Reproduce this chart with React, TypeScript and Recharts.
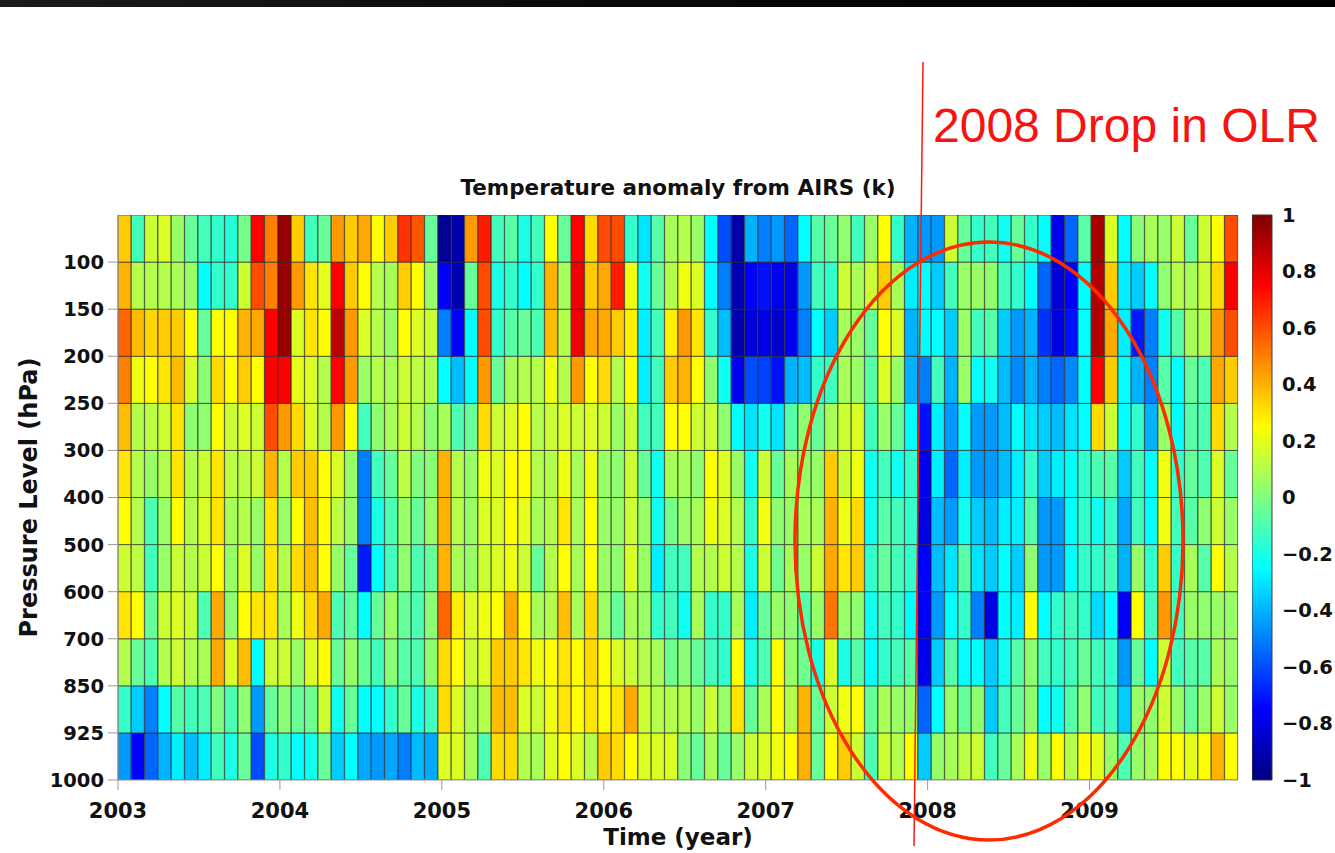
import { Bar, BarChart, Cell, XAxis, YAxis } from 'recharts';

// AIRS temperature anomaly (K), one array per pressure layer, Jan 2003 .. Dec 2009
const p050 = [
  0.35, -0.12, 0.15, 0.18, 0.05, -0.05, -0.12, -0.15, -0.18, -0.02, 0.75, 0.5,
  0.95, 0.35, -0.12, -0.05, 0.45, 0.35, 0.42, 0.25, 0.35, 0.65, 0.58, -0.05,
  -0.95, -0.92, 0.45, 0.7, -0.12, -0.08, -0.2, -0.12, 0.25, -0.05, 0.75, 0.32,
  0.6, 0.6, -0.15, -0.3, -0.08, 0.08, 0.1, 0.05, -0.25, -0.6, -0.92, -0.4,
  -0.5, -0.45, -0.55, -0.25, -0.08, -0.05, 0.03, -0.12, 0.05, 0.25, -0.15, -0.4,
  -0.45, -0.45, 0.15, -0.05, -0.15, -0.12, -0.22, -0.05, -0.15, -0.25, -0.78, -0.55,
  -0.08, 0.92, 0.18, -0.25, 0.02, 0.08, 0.05, 0.15, -0.05, 0.15, 0.25, 0.6,
];
const p100 = [
  0.4, 0.1, 0.1, 0.1, 0.08, 0.05, -0.25, -0.15, -0.15, 0.15, 0.6, 0.5,
  0.95, 0.45, 0.3, 0.2, 0.75, 0.35, 0.25, 0.1, 0.08, 0.35, 0.25, 0.05,
  -0.75, -0.9, -0.05, 0.6, -0.2, -0.15, -0.25, -0.15, 0.4, 0.08, 0.78, 0.35,
  0.42, 0.7, 0.22, -0.22, -0.05, 0.1, 0.22, 0.18, -0.25, -0.5, -0.9, -0.75,
  -0.72, -0.78, -0.8, -0.45, -0.12, -0.15, 0.15, 0.08, 0.15, 0.35, 0.08, -0.28,
  -0.25, -0.35, -0.12, 0.05, 0.05, 0.03, -0.12, -0.15, -0.25, -0.55, -0.82, -0.75,
  -0.25, 0.9, 0.35, -0.28, -0.35, -0.25, 0.03, 0.1, 0.08, 0.15, 0.32, 0.75,
];
const p150 = [
  0.55, 0.38, 0.33, 0.35, 0.35, 0.25, -0.05, 0.25, 0.25, 0.4, 0.42, 0.75,
  0.95, 0.18, 0.3, 0.25, 0.88, 0.45, 0.18, 0.1, 0.05, 0.25, 0.18, 0.15,
  -0.5, -0.75, -0.25, 0.6, -0.15, -0.08, -0.05, -0.1, 0.38, 0.1, 0.78, 0.42,
  0.42, 0.35, 0.28, -0.28, -0.12, 0.28, 0.45, 0.3, -0.15, -0.38, -0.9, -0.82,
  -0.8, -0.85, -0.78, -0.5, -0.25, -0.35, 0.08, 0.05, -0.05, 0.25, 0.18, -0.4,
  -0.25, -0.25, -0.35, 0.05, -0.12, -0.08, -0.35, -0.45, -0.4, -0.65, -0.8, -0.72,
  -0.25, 0.9, 0.42, -0.28, -0.7, -0.5, -0.22, -0.08, 0.08, 0.1, 0.45, 0.6,
];
const p200 = [
  0.5, 0.22, 0.25, 0.3, 0.38, 0.18, 0.02, 0.32, 0.25, 0.35, 0.25, 0.75,
  0.75, 0.2, 0.18, 0.1, 0.75, 0.45, 0.05, 0.1, 0.08, 0.15, 0.12, 0.1,
  -0.25, -0.38, -0.25, 0.45, -0.05, 0.08, 0.1, 0.1, 0.22, 0.1, 0.45, 0.25,
  0.32, 0.1, 0.25, -0.28, -0.12, 0.35, 0.4, 0.25, 0.03, -0.22, -0.78, -0.6,
  -0.62, -0.72, -0.4, -0.38, -0.15, -0.12, 0.08, 0.05, -0.08, 0.18, 0.05, -0.4,
  -0.5, -0.12, -0.4, 0.05, -0.25, -0.22, -0.38, -0.48, -0.4, -0.5, -0.55, -0.48,
  -0.25, 0.75, 0.35, -0.25, -0.4, -0.5, -0.08, -0.25, -0.05, -0.1, 0.42, 0.35,
];
const p250 = [
  0.38, 0.1, 0.12, 0.15, 0.3, 0.03, 0.03, 0.25, 0.15, 0.18, 0.15, 0.6,
  0.45, 0.32, 0.18, 0.1, 0.45, 0.25, -0.12, 0.03, 0.08, 0.15, 0.1, 0.02,
  0.08, -0.1, -0.05, 0.32, 0.15, 0.18, 0.25, 0.1, 0.15, 0.18, 0.15, 0.18,
  0.15, 0.05, 0.15, -0.12, -0.12, 0.25, 0.25, 0.15, 0.15, 0.03, -0.25, -0.3,
  -0.22, -0.3, -0.08, 0.03, -0.05, 0.08, 0.15, 0.18, -0.12, 0.05, -0.05, -0.25,
  -0.72, -0.28, -0.45, -0.25, -0.45, -0.45, -0.38, -0.25, -0.3, -0.35, -0.38, -0.3,
  -0.25, 0.32, 0.15, -0.25, -0.15, -0.4, 0.05, -0.25, -0.08, -0.1, 0.32, 0.1,
];
const p300 = [
  0.3, 0.1, 0.05, 0.1, 0.3, 0.1, 0.15, 0.3, 0.12, 0.12, 0.15, 0.4,
  0.1, 0.35, 0.35, 0.25, 0.18, 0.05, -0.5, -0.12, -0.05, 0.12, 0.0, 0.02,
  0.4, 0.1, 0.05, 0.22, 0.18, 0.25, 0.25, 0.1, 0.1, 0.22, 0.08, 0.22,
  0.05, 0.03, 0.15, -0.05, -0.22, 0.08, 0.08, 0.03, 0.25, 0.18, 0.05, -0.22,
  0.15, -0.05, 0.08, 0.05, 0.05, 0.35, 0.15, 0.22, -0.22, -0.12, -0.22, -0.15,
  -0.78, -0.28, -0.55, -0.28, -0.45, -0.45, -0.38, -0.28, -0.15, -0.35, -0.28, -0.25,
  -0.15, -0.1, -0.08, -0.35, -0.12, -0.25, 0.22, -0.15, -0.05, -0.1, 0.18, -0.05,
];
const p400 = [
  0.25, 0.1, -0.1, 0.05, 0.25, 0.1, 0.18, 0.3, 0.08, 0.1, 0.05, 0.3,
  0.05, 0.25, 0.38, 0.25, 0.12, 0.05, -0.5, -0.2, -0.1, 0.05, -0.05, 0.05,
  0.4, 0.1, 0.05, 0.18, 0.18, 0.25, 0.2, 0.08, 0.1, 0.3, 0.08, 0.25,
  0.05, 0.05, 0.15, 0.05, -0.22, -0.02, 0.05, 0.08, 0.22, 0.18, 0.1, -0.15,
  0.22, 0.03, 0.05, 0.08, 0.08, 0.4, 0.22, 0.32, -0.22, -0.08, -0.12, -0.15,
  -0.8, -0.38, -0.45, -0.22, -0.35, -0.38, -0.28, -0.28, -0.08, -0.45, -0.45, -0.25,
  -0.15, -0.22, -0.15, -0.42, -0.12, -0.25, 0.22, -0.12, -0.08, 0.03, 0.15, 0.05,
];
const p500 = [
  0.15, 0.12, -0.12, 0.05, 0.15, 0.1, 0.15, 0.25, 0.05, 0.18, 0.05, 0.3,
  0.1, 0.32, 0.38, 0.25, 0.05, -0.05, -0.7, -0.25, -0.12, 0.03, -0.1, -0.05,
  0.4, 0.08, 0.05, 0.15, 0.18, 0.22, 0.15, -0.05, 0.1, 0.25, 0.08, 0.25,
  0.05, 0.03, 0.18, 0.05, -0.28, -0.12, -0.12, 0.1, 0.1, 0.15, 0.1, -0.2,
  0.15, -0.03, 0.08, 0.05, 0.15, 0.42, 0.3, 0.35, -0.15, -0.05, -0.12, -0.15,
  -0.75, -0.38, -0.3, -0.08, -0.3, -0.35, -0.25, -0.35, 0.03, -0.45, -0.45, -0.25,
  -0.15, -0.15, -0.12, -0.4, 0.05, -0.15, 0.35, -0.15, 0.08, -0.08, 0.25, 0.1,
];
const p600 = [
  0.3, 0.25, -0.05, 0.15, 0.18, 0.15, -0.1, 0.42, 0.03, 0.25, 0.3, 0.3,
  0.08, 0.22, 0.32, 0.42, -0.1, -0.05, -0.25, -0.05, 0.05, -0.05, -0.1, 0.02,
  0.55, 0.28, 0.18, 0.22, 0.25, 0.42, 0.25, 0.08, 0.1, 0.38, 0.08, 0.32,
  0.05, -0.05, 0.08, 0.05, -0.15, -0.12, -0.22, 0.08, -0.15, -0.15, 0.08, -0.28,
  -0.05, 0.05, 0.03, -0.08, 0.05, 0.52, 0.05, 0.03, -0.22, -0.12, -0.15, -0.25,
  -0.75, -0.45, -0.25, -0.15, -0.5, -0.8, -0.25, -0.28, 0.25, -0.25, -0.15, -0.12,
  -0.15, -0.32, -0.25, -0.75, 0.25, -0.12, 0.45, -0.12, 0.05, 0.03, 0.05, 0.05,
];
const p700 = [
  0.1, -0.05, -0.1, 0.1, 0.15, 0.1, 0.08, 0.42, 0.18, 0.38, -0.25, 0.15,
  0.15, 0.05, 0.18, 0.25, -0.05, 0.05, -0.05, -0.12, 0.02, -0.08, -0.1, 0.03,
  0.32, 0.25, 0.15, 0.18, 0.35, 0.35, 0.3, 0.22, 0.25, 0.3, 0.25, 0.32,
  0.25, 0.18, 0.15, 0.1, 0.08, -0.03, 0.02, -0.05, -0.12, -0.15, 0.25, -0.2,
  -0.1, 0.25, 0.05, -0.03, -0.2, 0.18, -0.2, -0.08, -0.25, -0.15, -0.12, -0.08,
  -0.78, -0.35, -0.08, -0.25, -0.25, -0.35, -0.22, -0.08, 0.03, -0.12, -0.15, -0.12,
  -0.05, -0.12, -0.15, -0.45, -0.05, -0.25, 0.15, -0.12, -0.08, -0.08, 0.08, 0.05,
];
const p850 = [
  -0.15, -0.35, -0.5, -0.25, -0.08, -0.12, -0.1, 0.0, -0.1, 0.03, -0.45, -0.05,
  0.02, -0.05, -0.03, 0.15, -0.22, -0.05, -0.25, -0.25, -0.15, -0.05, -0.2, -0.12,
  0.32, 0.18, 0.08, 0.1, 0.38, 0.38, 0.18, 0.15, 0.22, 0.3, 0.25, 0.3,
  0.25, 0.3, 0.42, 0.15, 0.1, 0.1, 0.1, 0.05, 0.15, 0.05, 0.3, -0.05,
  0.08, 0.25, 0.1, 0.4, -0.05, 0.15, 0.22, 0.25, -0.05, 0.08, 0.05, 0.05,
  -0.55, -0.25, 0.05, -0.05, 0.03, -0.35, -0.12, -0.05, 0.03, -0.25, -0.22, -0.08,
  0.03, -0.12, -0.12, -0.35, 0.05, 0.03, 0.15, 0.05, -0.05, 0.05, 0.15, 0.05,
];
const p925 = [
  -0.45, -0.75, -0.55, -0.4, -0.28, -0.38, -0.28, -0.12, -0.2, -0.05, -0.6, -0.2,
  -0.15, -0.25, -0.22, -0.05, -0.35, -0.25, -0.42, -0.45, -0.42, -0.5, -0.38, -0.42,
  0.18, 0.18, 0.08, -0.1, 0.32, 0.32, 0.1, 0.08, 0.18, 0.25, 0.18, 0.1,
  0.35, 0.32, 0.25, 0.18, 0.18, 0.18, 0.02, -0.05, 0.08, -0.05, 0.05, 0.15,
  0.18, 0.22, 0.25, 0.4, -0.05, 0.25, 0.35, 0.15, -0.1, 0.15, 0.1, 0.25,
  -0.35, 0.05, 0.08, 0.12, 0.15, -0.12, -0.05, 0.08, 0.22, 0.05, 0.25, 0.1,
  0.25, 0.2, 0.05, -0.1, 0.05, 0.08, 0.25, 0.25, 0.2, 0.25, 0.4, 0.25,
];

// bottom of the stack first
const layers = [
  { key: 'p925', values: p925 },
  { key: 'p850', values: p850 },
  { key: 'p700', values: p700 },
  { key: 'p600', values: p600 },
  { key: 'p500', values: p500 },
  { key: 'p400', values: p400 },
  { key: 'p300', values: p300 },
  { key: 'p250', values: p250 },
  { key: 'p200', values: p200 },
  { key: 'p150', values: p150 },
  { key: 'p100', values: p100 },
  { key: 'p050', values: p050 },
];

const years = [2003, 2004, 2005, 2006, 2007, 2008, 2009];
const monthNames = ['01', '02', '03', '04', '05', '06', '07', '08', '09', '10', '11', '12'];
const months = years.flatMap((y) => monthNames.map((m) => `${y}-${m}`));

const pressureLabels = ['1000', '925', '850', '700', '600', '500', '400', '300', '250', '200', '150', '100'];
const pressureTicks = [0, 1, 2, 3, 4, 5, 6, 7, 8, 9, 10, 11];
const yearTicks = [0, 12, 24, 36, 48, 60, 72];
const cbarTicks = [-1, -0.8, -0.6, -0.4, -0.2, 0, 0.2, 0.4, 0.6, 0.8, 1];
const cbarStops = [-1, -0.75, -0.25, 0.25, 0.75, 1];

function jet(v: number): string {
  const t = Math.max(0, Math.min(1, (v + 1) / 2));
  const c = (x: number) => Math.round(255 * Math.max(0, Math.min(1, x)));
  const r = c(1.5 - Math.abs(4 * t - 3));
  const g = c(1.5 - Math.abs(4 * t - 2));
  const b = c(1.5 - Math.abs(4 * t - 1));
  return `rgb(${r},${g},${b})`;
}

const chartData = months.map((m) => {
  const row: Record<string, string | number> = { month: m };
  layers.forEach((l) => {
    row[l.key] = 1; // each layer is one slot tall
  });
  return row;
});

const cbarData = [{ name: 'scale', range: [-1, 1] }];

const FONT = 'DejaVu Sans';
const tickStyle = { fontFamily: FONT, fontWeight: 700, fill: '#111' };

const fmtCbar = (v: number) => {
  if (v === 0) return '0';
  const s = String(Math.abs(v));
  return v < 0 ? `\u2212${s}` : s;
};

export default function App() {
  return (
    <div
      style={{
        position: 'absolute',
        left: 0,
        top: 0,
        width: 1335,
        height: 853,
        background: '#fff',
        overflow: 'hidden',
      }}
    >
      <div
        style={{
          position: 'absolute',
          left: 0,
          top: 0,
          width: 1335,
          height: 7,
          background: 'linear-gradient(90deg, #1c1b1a, #0a0a08 45%, #000)',
        }}
      />

      <div style={{ position: 'absolute', left: 0, top: 0 }}>
        <BarChart
          width={1250}
          height={853}
          data={chartData}
          margin={{ top: 215, right: 12, bottom: 3, left: 0 }}
          barCategoryGap={0}
        >
          <XAxis xAxisId="cat" dataKey="month" hide height={0} />
          <XAxis
            xAxisId="year"
            type="number"
            domain={[0, 84]}
            ticks={yearTicks}
            allowDataOverflow
            tickFormatter={(t: number) => String(years[0] + t / 12)}
            height={70}
            tickSize={10}
            tickMargin={13}
            stroke="#9a9a9a"
            tick={{ ...tickStyle, fontSize: 21 }}
            label={{
              value: 'Time (year)',
              position: 'insideBottom',
              offset: 5,
              style: { fontFamily: FONT, fontWeight: 700, fontSize: 23, fill: '#111' },
            }}
          />
          <YAxis
            type="number"
            domain={[0, 12]}
            ticks={pressureTicks}
            allowDataOverflow
            tickFormatter={(t: number) => pressureLabels[t] ?? ''}
            width={118}
            tickSize={10}
            tickMargin={4}
            stroke="#9a9a9a"
            tick={{ ...tickStyle, fontSize: 19.5 }}
            label={{
              value: 'Pressure Level (hPa)',
              angle: -90,
              position: 'insideLeft',
              offset: 28,
              style: { fontFamily: FONT, fontWeight: 700, fontSize: 24, fill: '#111', textAnchor: 'middle' },
            }}
          />
          {layers.map((l) => (
            <Bar key={l.key} dataKey={l.key} xAxisId="cat" stackId="lev" isAnimationActive={false}>
              {l.values.map((v, i) => (
                <Cell key={i} fill={jet(v)} stroke="#262626" strokeOpacity={0.65} strokeWidth={1} />
              ))}
            </Bar>
          ))}
        </BarChart>
      </div>

      <div style={{ position: 'absolute', left: 1252, top: 0 }}>
        <BarChart
          width={83}
          height={853}
          data={cbarData}
          margin={{ top: 215, right: 0, bottom: 73, left: 0 }}
          barCategoryGap={0}
        >
          <defs>
            <linearGradient id="jetGrad" x1="0" y1="1" x2="0" y2="0">
              {cbarStops.map((v) => (
                <stop key={v} offset={`${((v + 1) / 2) * 100}%`} stopColor={jet(v)} />
              ))}
            </linearGradient>
          </defs>
          <XAxis dataKey="name" hide height={0} />
          <YAxis
            orientation="right"
            type="number"
            domain={[-1, 1]}
            ticks={cbarTicks}
            width={63}
            axisLine={false}
            tickLine={false}
            tickMargin={4}
            tickFormatter={fmtCbar}
            tick={{ ...tickStyle, fontSize: 19.5, textAnchor: 'start' }}
          />
          <Bar dataKey="range" fill="url(#jetGrad)" stroke="#3a3a3a" strokeWidth={1} isAnimationActive={false} />
        </BarChart>
      </div>

      <svg
        width={1335}
        height={853}
        style={{ position: 'absolute', left: 0, top: 0, pointerEvents: 'none' }}
      >
        <text
          x={678}
          y={195}
          textAnchor="middle"
          style={{ fontFamily: FONT, fontWeight: 700, fontSize: 21.5, fill: '#111' }}
        >
          Temperature anomaly from AIRS (k)
        </text>
        <line x1={923} y1={62} x2={914} y2={846} stroke="#ff1a0a" strokeWidth={1.5} />
        <ellipse cx={989} cy={541} rx={194} ry={299} fill="none" stroke="#ff2a00" strokeWidth={3.5} />
        <text x={933} y={142} style={{ fontFamily: 'Liberation Sans', fontSize: 48, fill: '#f51410' }}>
          2008 Drop in OLR
        </text>
      </svg>
    </div>
  );
}
